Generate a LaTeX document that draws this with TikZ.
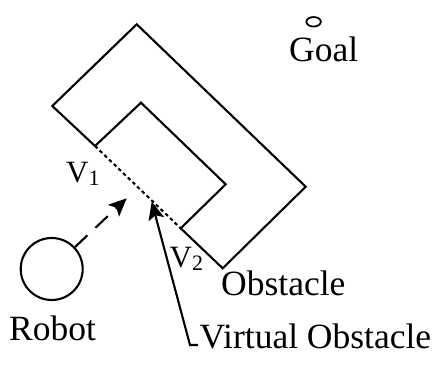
\documentclass[tikz,border=0pt]{standalone}
\usepackage{fontspec}
\setmainfont{Liberation Serif}
\usetikzlibrary{arrows.meta,shapes.geometric}
\tikzset{
  lbl/.style={inner sep=0pt, anchor=base west, font=\fontsize{35.5}{40}\selectfont},
  vlbl/.style={inner sep=0pt, anchor=base west, font=\fontsize{31}{34}\selectfont},
  edge/.style={line width=2.1pt, line join=miter},
  bigarrow/.style={line width=2.1pt, -{Stealth[length=18pt,width=16pt,inset=4pt]}},
}
\newcommand{\vsub}[1]{\raisebox{-0.12em}{\fontsize{22}{22}\selectfont #1}}
\begin{document}
\begin{tikzpicture}[x=1pt,y=-1pt]
\useasboundingbox (0,0) rectangle (438,366);
% obstacle corners
\coordinate (otop) at (136.7,24.3);
\coordinate (oright) at (305.7,186.7);
\coordinate (obot) at (222.7,268.3);
\coordinate (v2) at (180.7,228.3);
\coordinate (iright) at (225.7,184.3);
\coordinate (itop) at (141,102.7);
\coordinate (v1) at (95,146);
\coordinate (oleft) at (52.3,106);
\draw[edge] (v1) -- (oleft) -- (otop) -- (oright) -- (obot) -- (v2) -- (iright) -- (itop) -- cycle;
% virtual obstacle (dotted)
\draw[line width=2.1pt, dash pattern=on 3.5pt off 3pt] (v1) -- (v2);
% labels
\node[vlbl] (lv1) at (66,182) {V\vsub{1}};
\node[vlbl] (lv2) at (169.5,267) {V\vsub{2}};
% goal
\node[draw, ellipse, line width=1.8pt, minimum width=14.5pt, minimum height=9.5pt, inner sep=0pt] (goal) at (313.6,21.8) {};
\node[lbl] (goaltxt) at (289,62) {Goal};
% robot
\node[draw, circle, line width=2.1pt, minimum size=62pt, inner sep=0pt] (robot) at (51.7,269) {};
\node[lbl] (robottxt) at (9,340) {Robot};
\coordinate (rtip) at (126.7,198.3);
\draw[bigarrow, dash pattern=on 17pt off 11pt] (robot) -- (rtip);
% obstacle label
\node[lbl] (obstxt) at (221,295) {Obstacle};
% virtual obstacle label
\node[lbl] (vobstxt) at (199.5,348) {Virtual Obstacle};
\coordinate (vtip) at (151.7,201.7);
\coordinate (vbend) at (190,345);
\coordinate (vstart) at (198,345);
\draw[bigarrow, line join=miter] (vstart) -- (vbend) -- (vtip);
\end{tikzpicture}
\end{document}
